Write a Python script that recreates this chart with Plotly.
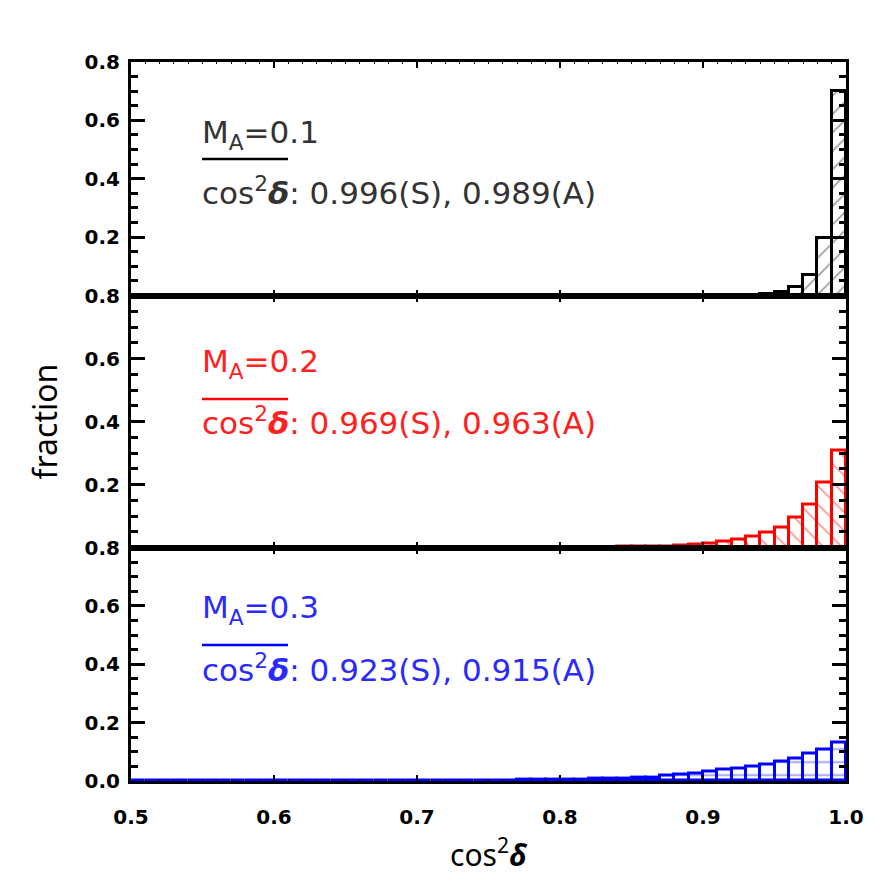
import numpy as np
import plotly.graph_objects as go
from plotly.subplots import make_subplots

# ---------------- data ----------------
bin_left = [round(0.50 + 0.01 * i, 2) for i in range(50)]
bin_width = 0.01

# fraction per bin, bins 0.50 ... 0.99 (left edges)
frac_ma01 = [0.0] * 37 + [
    0.0002, 0.0003, 0.0005,            # 0.87-0.89
    0.0007, 0.001, 0.0015, 0.002, 0.004,  # 0.90-0.94
    0.013, 0.028, 0.069, 0.198, 0.700,    # 0.95-0.99
]
frac_ma02 = [
    0.0001, 0.0001, 0.0001, 0.0001, 0.0001, 0.0001, 0.0001, 0.0001, 0.0001, 0.0001,  # 0.50-0.59
    0.0001, 0.0001, 0.0001, 0.0002, 0.0002, 0.0002, 0.0002, 0.0002, 0.0002, 0.0002,  # 0.60-0.69
    0.0002, 0.0002, 0.0003, 0.0003, 0.0003, 0.0003, 0.0004, 0.0005, 0.0006, 0.0007,  # 0.70-0.79
    0.0009, 0.0011, 0.0014, 0.0018, 0.0022, 0.0028, 0.0035, 0.0045, 0.006, 0.009,    # 0.80-0.89
    0.014, 0.019, 0.026, 0.035, 0.047, 0.065, 0.095, 0.137, 0.206, 0.308,            # 0.90-0.99
]
frac_ma03 = [
    0.0004, 0.0004, 0.0004, 0.0004, 0.0004, 0.0004, 0.0004, 0.0004, 0.0005, 0.0005,  # 0.50-0.59
    0.0005, 0.0005, 0.0006, 0.0007, 0.0008, 0.0009, 0.001, 0.0011, 0.0012, 0.0013,   # 0.60-0.69
    0.0015, 0.0017, 0.0019, 0.0021, 0.0024, 0.0027, 0.003, 0.0035, 0.004, 0.0045,    # 0.70-0.79
    0.005, 0.006, 0.007, 0.008, 0.009, 0.011, 0.013, 0.017, 0.022, 0.027,            # 0.80-0.89
    0.032, 0.038, 0.044, 0.050, 0.057, 0.066, 0.078, 0.094, 0.109, 0.133,            # 0.90-0.99
]

panel_labels = ["M<sub>A</sub>=0.1", "M<sub>A</sub>=0.2", "M<sub>A</sub>=0.3"]
mean_S = ["0.996", "0.969", "0.923"]
mean_A = ["0.989", "0.963", "0.915"]
line_colors = ["#000000", "#ff0000", "#0000ff"]
text_colors = ["#333333", "#ff2020", "#2a2aff"]
hatch_shapes = ["/", "\\", "-"]
hatch_colors = ["#333333", "#ff2020", "#2020ff"]
series = [frac_ma01, frac_ma02, frac_ma03]

x_ticks = [0.5, 0.6, 0.7, 0.8, 0.9, 1.0]
y_ticks_upper = [0.2, 0.4, 0.6, 0.8]
y_ticks_bottom = [0.0, 0.2, 0.4, 0.6, 0.8]

# ---------------- layout geometry ----------------
W, H = 886, 886
L, R, T, B = 131, 40, 62, 105
PW, PH = W - L - R, H - T - B
# panel pixel boundaries (top, bottom)
panels_px = [(62, 295.5), (295.5, 547.6), (547.6, 781)]


def xp(px):
    return (px - L) / PW


def yp(py):
    return (H - B - py) / PH


fig = make_subplots(rows=3, cols=1, shared_xaxes=True, vertical_spacing=0)

centers = [b + bin_width / 2 for b in bin_left]
for i, vals in enumerate(series):
    fig.add_trace(
        go.Bar(
            x=centers,
            y=vals,
            width=bin_width,
            marker=dict(
                color="white",
                line=dict(color=line_colors[i], width=3),
                pattern=dict(
                    shape=hatch_shapes[i],
                    fgcolor=hatch_colors[i],
                    bgcolor="white",
                    size=13,
                    solidity=0.12,
                ),
            ),
            showlegend=False,
            hoverinfo="skip",
        ),
        row=i + 1,
        col=1,
    )

tick_font = dict(family="DejaVu Sans", size=20, color="black", weight="bold")

for i in range(3):
    top, bot = panels_px[i]
    yaxis_name = "yaxis" if i == 0 else f"yaxis{i + 1}"
    xaxis_name = "xaxis" if i == 0 else f"xaxis{i + 1}"
    tv = y_ticks_bottom if i == 2 else y_ticks_upper
    fig.layout[yaxis_name].update(
        domain=[yp(bot), yp(top)],
        range=[0, 0.8],
        tickmode="array",
        tickvals=tv,
        ticktext=[f"{v:.1f}" for v in tv],
        ticks="inside",
        ticklen=14,
        tickwidth=3,
        tickcolor="black",
        showline=True,
        linewidth=3,
        linecolor="black",
        mirror="allticks",
        showgrid=False,
        zeroline=False,
        tickfont=tick_font,
        ticklabelstandoff=4,
        minor=dict(dtick=0.05, tick0=0, ticks="inside", ticklen=7, tickwidth=3,
                   tickcolor="black", showgrid=False),
    )
    fig.layout[xaxis_name].update(
        range=[0.5, 1.0],
        tickmode="array",
        tickvals=x_ticks,
        ticktext=[f"{v:.1f}" for v in x_ticks],
        ticks="inside",
        ticklen=6,
        tickwidth=2,
        tickcolor="black",
        showline=True,
        linewidth=3,
        linecolor="black",
        mirror="allticks",
        showgrid=False,
        zeroline=False,
        showticklabels=(i == 2),
        tickfont=tick_font,
        minor=dict(dtick=0.01, tick0=0.5, ticks="inside", ticklen=2, tickwidth=1,
                   tickcolor="black", showgrid=False),
    )
fig.layout.xaxis3.update(ticklabelstandoff=16)

# ---------------- annotations ----------------
ann_font = "DejaVu Sans"
line1_y = [134, 364, 609]
over_y = [159, 399, 645]
line2_y = [191, 421, 668]
x_text = 200
annotations = []
shapes = []
for i in range(3):
    annotations.append(dict(
        x=xp(x_text), y=yp(line1_y[i]), xref="paper", yref="paper",
        xanchor="left", yanchor="middle", showarrow=False,
        text=panel_labels[i],
        font=dict(family=ann_font, size=31, color=text_colors[i]),
    ))
    annotations.append(dict(
        x=xp(x_text), y=yp(line2_y[i]), xref="paper", yref="paper",
        xanchor="left", yanchor="middle", showarrow=False,
        text=f"cos<sup>2</sup><b><i>δ</i></b>: {mean_S[i]}(S), {mean_A[i]}(A)",
        font=dict(family=ann_font, size=31, color=text_colors[i]),
    ))
    shapes.append(dict(
        type="line", xref="paper", yref="paper",
        x0=xp(202), x1=xp(288), y0=yp(over_y[i]), y1=yp(over_y[i]),
        line=dict(color=line_colors[i], width=2.5),
    ))

annotations.append(dict(
    x=0.5, y=yp(853), xref="paper", yref="paper", showarrow=False,
    xanchor="center", yanchor="middle",
    text="cos<sup>2</sup><b><i>δ</i></b>",
    font=dict(family="Noto Sans", size=30, color="black"),
))
annotations.append(dict(
    x=xp(44), y=0.5, xref="paper", yref="paper", showarrow=False,
    xanchor="center", yanchor="middle", textangle=-90,
    text="fraction",
    font=dict(family="Noto Sans", size=32, color="black"),
))

fig.update_layout(
    width=W, height=H,
    margin=dict(l=L, r=R, t=T, b=B),
    paper_bgcolor="white",
    plot_bgcolor="white",
    bargap=0,
    annotations=annotations,
    shapes=shapes,
)

fig.write_html("out.html")
